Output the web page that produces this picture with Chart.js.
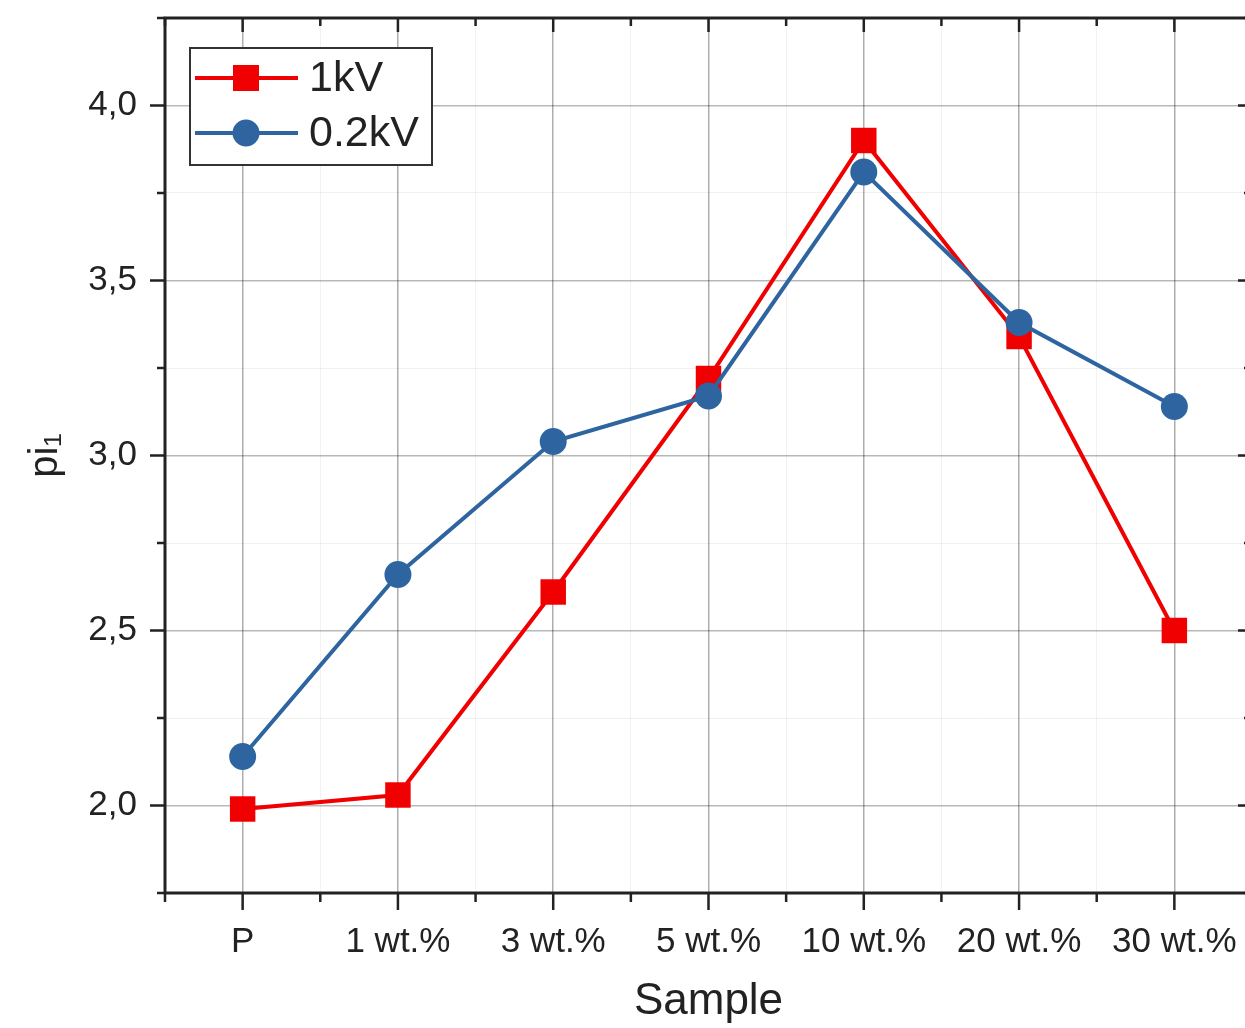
<!DOCTYPE html>
<html lang="en">
<head>
    <meta charset="UTF-8">
    <title>pi1 vs Sample</title>
    <script src="https://cdn.jsdelivr.net/npm/chart.js"></script>
    <style>
        body {
            margin: 0;
            background: #ffffff;
            overflow: hidden;
        }
        canvas {
            display: block;
        }
    </style>
</head>
<body>
    <canvas id="piChart" width="1270" height="1028"></canvas>

    <script>
        // Data
        const samples = ['P', '1 wt.%', '3 wt.%', '5 wt.%', '10 wt.%', '20 wt.%', '30 wt.%'];
        const pi1kV = [1.99, 2.03, 2.61, 3.22, 3.90, 3.34, 2.50];
        const pi02kV = [2.14, 2.66, 3.04, 3.17, 3.81, 3.38, 3.14];

        const RED = '#f00000';
        const BLUE = '#2e65a1';
        const TEXT = '#222222';
        const FONT = "'Liberation Sans', Arial, sans-serif";

        const isMajor = v => Math.abs(v - Math.round(v)) < 1e-6;
        const isHalf = v => Math.abs(v * 2 - Math.round(v * 2)) < 1e-6;

        // frame + tick marks on all four sides
        const frameTicks = {
            id: 'frameTicks',
            afterDatasetsDraw(chart) {
                const { ctx, chartArea: a, scales } = chart;
                ctx.save();
                ctx.strokeStyle = TEXT;
                ctx.lineWidth = 3;
                ctx.strokeRect(a.left, a.top, a.right - a.left, a.bottom - a.top);
                ctx.lineWidth = 2.5;
                ctx.beginPath();
                scales.x.ticks.forEach(t => {
                    const px = scales.x.getPixelForValue(t.value);
                    const major = isMajor(t.value);
                    ctx.moveTo(px, a.bottom);
                    ctx.lineTo(px, a.bottom + (major ? 17 : 9));
                    ctx.moveTo(px, a.top);
                    ctx.lineTo(px, a.top + (major ? 14 : 8));
                });
                scales.y.ticks.forEach(t => {
                    const py = scales.y.getPixelForValue(t.value);
                    const major = isHalf(t.value);
                    ctx.moveTo(a.left - (major ? 15 : 8), py);
                    ctx.lineTo(a.left, py);
                    ctx.moveTo(a.right, py);
                    ctx.lineTo(a.right - (major ? 14 : 8), py);
                });
                ctx.stroke();
                ctx.restore();
            }
        };

        // boxed legend in the upper left corner
        const boxLegend = {
            id: 'boxLegend',
            afterDraw(chart) {
                const ctx = chart.ctx;
                ctx.save();
                ctx.fillStyle = '#ffffff';
                ctx.fillRect(190, 48, 242, 117);
                ctx.strokeStyle = '#333333';
                ctx.lineWidth = 2;
                ctx.strokeRect(190, 48, 242, 117);

                const rows = [
                    { label: '1kV', color: RED, shape: 'rect', y: 78 },
                    { label: '0.2kV', color: BLUE, shape: 'circle', y: 133 }
                ];
                rows.forEach(r => {
                    ctx.strokeStyle = r.color;
                    ctx.fillStyle = r.color;
                    ctx.lineWidth = 4;
                    ctx.beginPath();
                    ctx.moveTo(195, r.y);
                    ctx.lineTo(298, r.y);
                    ctx.stroke();
                    if (r.shape === 'rect') {
                        ctx.fillRect(233, r.y - 13, 26, 26);
                    } else {
                        ctx.beginPath();
                        ctx.arc(246, r.y, 13.5, 0, Math.PI * 2);
                        ctx.fill();
                    }
                    ctx.fillStyle = TEXT;
                    ctx.font = '43px ' + FONT;
                    ctx.textBaseline = 'middle';
                    ctx.fillText(r.label, 309, r.y + 1);
                });
                ctx.restore();
            }
        };

        const toPoints = arr => arr.map((v, i) => ({ x: i, y: v }));

        const ctx = document.getElementById('piChart').getContext('2d');
        const piChart = new Chart(ctx, {
            type: 'line',
            data: {
                datasets: [
                    {
                        label: '1kV',
                        data: toPoints(pi1kV),
                        order: 1,
                        borderColor: RED,
                        backgroundColor: RED,
                        borderWidth: 4,
                        pointStyle: 'rect',
                        pointRadius: 18,
                        pointBorderWidth: 0,
                        tension: 0
                    },
                    {
                        label: '0.2kV',
                        data: toPoints(pi02kV),
                        order: 0,
                        borderColor: BLUE,
                        backgroundColor: BLUE,
                        borderWidth: 4,
                        pointStyle: 'circle',
                        pointRadius: 13.5,
                        pointBorderWidth: 0,
                        tension: 0
                    }
                ]
            },
            options: {
                responsive: false,
                animation: false,
                layout: {
                    padding: { top: 18, left: 0, right: 0, bottom: 0 }
                },
                plugins: {
                    legend: { display: false },
                    tooltip: { enabled: false }
                },
                scales: {
                    x: {
                        type: 'linear',
                        min: -0.5,
                        max: 6.5,
                        border: { display: false },
                        grid: {
                            drawTicks: false,
                            color: c => isMajor(c.tick.value) ? 'rgba(0,0,0,0.32)' : 'rgba(0,0,0,0.05)',
                            lineWidth: c => isMajor(c.tick.value) ? 1.5 : 1
                        },
                        ticks: {
                            stepSize: 0.5,
                            autoSkip: false,
                            maxRotation: 0,
                            minRotation: 0,
                            padding: 28,
                            color: TEXT,
                            font: { family: FONT, size: 35 },
                            callback: v => isMajor(v) && samples[Math.round(v)] !== undefined ? samples[Math.round(v)] : ''
                        },
                        title: {
                            display: true,
                            text: 'Sample',
                            color: TEXT,
                            font: { family: FONT, size: 44 },
                            padding: { top: 0, bottom: 0 }
                        },
                        afterFit: s => {
                            s.height = 135;
                            s.paddingLeft = 0;
                            s.paddingRight = 0;
                        }
                    },
                    y: {
                        min: 1.75,
                        max: 4.25,
                        border: { display: false },
                        grid: {
                            drawTicks: false,
                            color: c => isHalf(c.tick.value) ? 'rgba(0,0,0,0.28)' : 'rgba(0,0,0,0.06)',
                            lineWidth: c => isHalf(c.tick.value) ? 1.5 : 1
                        },
                        ticks: {
                            stepSize: 0.25,
                            padding: 28,
                            color: TEXT,
                            font: { family: FONT, size: 35 },
                            callback: v => isHalf(v) ? v.toFixed(1).replace('.', ',') : ''
                        },
                        title: {
                            display: true,
                            text: 'pi\u2081',
                            color: TEXT,
                            font: { family: FONT, size: 40 },
                            padding: { top: 22, bottom: 0 }
                        },
                        afterFit: s => {
                            s.width = 165;
                            s.paddingTop = 0;
                            s.paddingBottom = 0;
                        }
                    }
                }
            },
            plugins: [frameTicks, boxLegend]
        });
    </script>
</body>
</html>
